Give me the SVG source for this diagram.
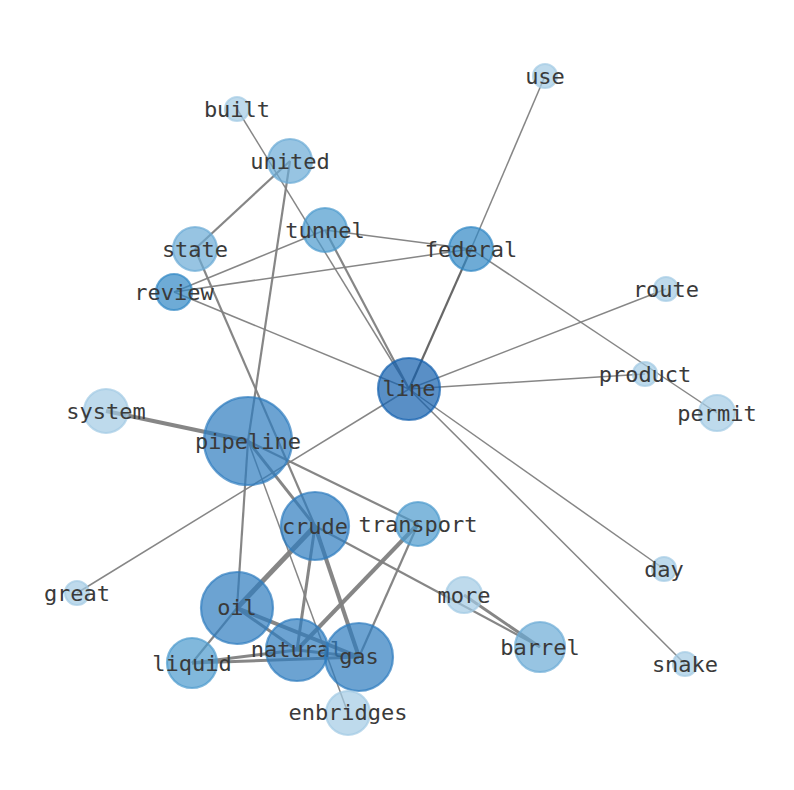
<svg xmlns="http://www.w3.org/2000/svg" width="794" height="790" viewBox="0 0 794 790">
<style>
.e{stroke:#808080;stroke-opacity:0.95;fill:none;stroke-width:1.5}
.w2{stroke-width:2.2}
.w3{stroke-width:3}
.w4{stroke-width:4}
.w5{stroke-width:5}
circle{stroke-width:2.2;fill-opacity:0.7;stroke-opacity:0.7}
.c1{fill:#a2cae4;stroke:#a2cae4}
.c2{fill:#6babd6;stroke:#6babd6}
.c3{fill:#4c9acd;stroke:#4c9acd}
.c4{fill:#3088c4;stroke:#3088c4}
.c5{fill:#2d7cbf;stroke:#2d7cbf}
.c6{fill:#135fae;stroke:#135fae}
text{font-family:"DejaVu Sans Mono","Liberation Mono",monospace;font-size:22px;fill:#3a3a3a;text-anchor:middle;dominant-baseline:central}
</style>
<g id="edges">
<line class="e" x1="237" y1="109" x2="409" y2="389"/>
<line class="e w2" x1="290" y1="161" x2="195" y2="249"/>
<line class="e w2" x1="290" y1="161" x2="248" y2="441"/>
<line class="e w2" x1="325" y1="230" x2="409" y2="389"/>
<line class="e" x1="325" y1="230" x2="471" y2="249"/>
<line class="e" x1="325" y1="230" x2="174" y2="292"/>
<line class="e" x1="174" y1="292" x2="471" y2="249"/>
<line class="e" x1="174" y1="292" x2="409" y2="389"/>
<line class="e w2" x1="195" y1="249" x2="315" y2="526"/>
<line class="e" x1="471" y1="249" x2="545" y2="76"/>
<line class="e w2" x1="471" y1="249" x2="409" y2="389" style="stroke:#606060"/>
<line class="e" x1="471" y1="249" x2="717" y2="413"/>
<line class="e" x1="409" y1="389" x2="666" y2="289"/>
<line class="e" x1="409" y1="389" x2="645" y2="374"/>
<line class="e" x1="409" y1="389" x2="664" y2="569"/>
<line class="e" x1="409" y1="389" x2="685" y2="664"/>
<line class="e" x1="409" y1="389" x2="77" y2="593"/>
<line class="e w4" x1="106" y1="411" x2="248" y2="441"/>
<line class="e w3" x1="248" y1="441" x2="315" y2="526"/>
<line class="e w2" x1="248" y1="441" x2="418" y2="524"/>
<line class="e w2" x1="248" y1="441" x2="237" y2="608"/>
<line class="e" x1="248" y1="441" x2="348" y2="713"/>
<line class="e w5" x1="315" y1="526" x2="237" y2="608"/>
<line class="e w3" x1="315" y1="526" x2="297" y2="650"/>
<line class="e w4" x1="315" y1="526" x2="359" y2="657"/>
<line class="e w2" x1="315" y1="526" x2="540" y2="647"/>
<line class="e w3" x1="464" y1="595" x2="540" y2="647"/>
<line class="e w4" x1="418" y1="524" x2="297" y2="650"/>
<line class="e w2" x1="418" y1="524" x2="359" y2="657"/>
<line class="e w3" x1="237" y1="608" x2="297" y2="650"/>
<line class="e w4" x1="237" y1="608" x2="359" y2="657"/>
<line class="e w2" x1="237" y1="608" x2="192" y2="663"/>
<line class="e w3" x1="192" y1="663" x2="297" y2="650"/>
<line class="e w3" x1="192" y1="663" x2="359" y2="657"/>
<line class="e w3" x1="297" y1="650" x2="359" y2="657"/>
</g>
<g id="use"><circle class="c1" cx="545" cy="76" r="12"/><text x="545" y="76">use</text></g>
<g id="built"><circle class="c1" cx="237" cy="109" r="12"/><text x="237" y="109">built</text></g>
<g id="united"><circle class="c2" cx="290" cy="161" r="22"/><text x="290" y="161">united</text></g>
<g id="tunnel"><circle class="c3" cx="325" cy="230" r="22"/><text x="325" y="230">tunnel</text></g>
<g id="state"><circle class="c2" cx="195" cy="249" r="22"/><text x="195" y="249">state</text></g>
<g id="federal"><circle class="c4" cx="471" cy="249" r="22"/><text x="471" y="249">federal</text></g>
<g id="review"><circle class="c4" cx="174" cy="292" r="18"/><text x="174" y="292">review</text></g>
<g id="route"><circle class="c1" cx="666" cy="289" r="12"/><text x="666" y="289">route</text></g>
<g id="line"><circle class="c6" cx="409" cy="389" r="31"/><text x="409" y="388">line</text></g>
<g id="product"><circle class="c1" cx="645" cy="374" r="12"/><text x="645" y="374">product</text></g>
<g id="permit"><circle class="c1" cx="717" cy="413" r="18"/><text x="717" y="413">permit</text></g>
<g id="system"><circle class="c1" cx="106" cy="411" r="22"/><text x="106" y="411">system</text></g>
<g id="pipeline"><circle class="c5" cx="248" cy="441" r="44"/><text x="248" y="441">pipeline</text></g>
<g id="crude"><circle class="c5" cx="315" cy="526" r="34"/><text x="315" y="526">crude</text></g>
<g id="transport"><circle class="c3" cx="418" cy="524" r="22"/><text x="418" y="524">transport</text></g>
<g id="great"><circle class="c1" cx="77" cy="593" r="12"/><text x="77" y="593">great</text></g>
<g id="day"><circle class="c1" cx="664" cy="569" r="12"/><text x="664" y="569">day</text></g>
<g id="more"><circle class="c1" cx="464" cy="595" r="18"/><text x="464" y="595">more</text></g>
<g id="oil"><circle class="c5" cx="237" cy="608" r="36"/><text x="237" y="607">oil</text></g>
<g id="natural"><circle class="c5" cx="297" cy="650" r="31"/><text x="297" y="649">natural</text></g>
<g id="gas"><circle class="c5" cx="359" cy="657" r="34"/><text x="359" y="656">gas</text></g>
<g id="barrel"><circle class="c2" cx="540" cy="647" r="25"/><text x="540" y="647">barrel</text></g>
<g id="liquid"><circle class="c3" cx="192" cy="663" r="25"/><text x="192" y="663">liquid</text></g>
<g id="snake"><circle class="c1" cx="685" cy="664" r="12"/><text x="685" y="664">snake</text></g>
<g id="enbridges"><circle class="c1" cx="348" cy="713" r="22"/><text x="348" y="712">enbridges</text></g>
</svg>
